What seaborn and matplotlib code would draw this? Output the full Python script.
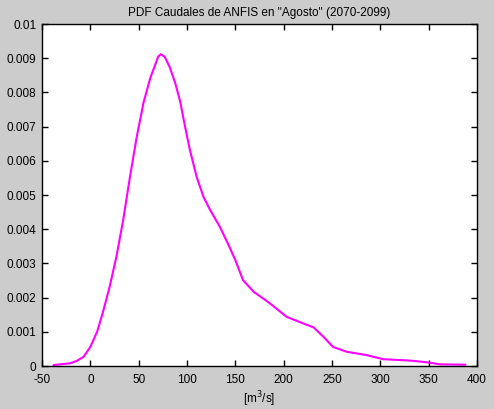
import numpy as np
import pandas as pd
import seaborn as sns
import matplotlib
matplotlib.use("Agg")
import matplotlib.pyplot as plt
from matplotlib.ticker import FuncFormatter

# caudal [m3/s] and estimated density
caudal = [-38, -31, -21, -14, -7, 0, 7, 13, 20, 27, 34, 41, 48, 55,
          62, 67, 70, 73, 77, 82, 88, 93, 98, 103, 110, 117, 124, 131, 134,
          143, 150, 158, 169, 186, 203, 220, 231, 241, 251, 265, 286, 303,
          331, 348, 362, 388]
densidad = [0.00003, 0.00005, 0.00008, 0.00015, 0.00027, 0.00056, 0.001,
            0.00157, 0.00232, 0.0032, 0.00427, 0.00553, 0.0067, 0.0077,
            0.00842, 0.0088, 0.00904, 0.00912, 0.00904,
            0.00875, 0.00826, 0.00773, 0.007, 0.00632, 0.00553, 0.00495,
            0.00456, 0.00422, 0.00407, 0.00354, 0.0031, 0.00251, 0.00217,
            0.00183, 0.00144, 0.00125, 0.00113, 0.00086, 0.00056, 0.00042,
            0.00032, 0.0002, 0.00016, 0.00011, 0.00005, 0.00004]

df = pd.DataFrame({"caudal": caudal, "densidad": densidad})

sns.set_style("ticks")
plt.rcParams["font.family"] = ["Liberation Sans", "DejaVu Sans"]
plt.rcParams["font.size"] = 8
plt.rcParams["axes.unicode_minus"] = False
plt.rcParams["text.color"] = "black"

fig = plt.figure(figsize=(4.94, 4.09), dpi=100)
fig.patch.set_facecolor("#cccccc")
ax = fig.add_axes([0.085, 0.105, 0.8806, 0.8362])
ax.set_facecolor("white")

sns.lineplot(data=df, x="caudal", y="densidad", color="#ff00ff", linewidth=1.5, ax=ax)

ax.set_xlim(-50, 400)
ax.set_ylim(0, 0.01)
ax.set_xticks(np.arange(-50, 401, 50))
ax.set_yticks(np.arange(0, 0.0101, 0.001))
ax.yaxis.set_major_formatter(FuncFormatter(lambda v, p: "%g" % round(v, 4)))

ax.tick_params(direction="in", length=4, width=1, top=True, right=True,
               labelsize=8.5, colors="black")
ax.tick_params(axis="y", pad=4)
ax.tick_params(axis="x", pad=6)
for s in ax.spines.values():
    s.set_visible(True)
    s.set_color("black")
    s.set_linewidth(1)

ax.set_title('PDF Caudales de ANFIS en "Agosto" (2070-2099)', fontsize=8.5,
             pad=6, color="black")
ax.set_xlabel("[m$^3$/s]", fontsize=8.5, labelpad=2, color="black")
ax.set_ylabel("")

fig.savefig("out.png", dpi=100, facecolor=fig.get_facecolor())
